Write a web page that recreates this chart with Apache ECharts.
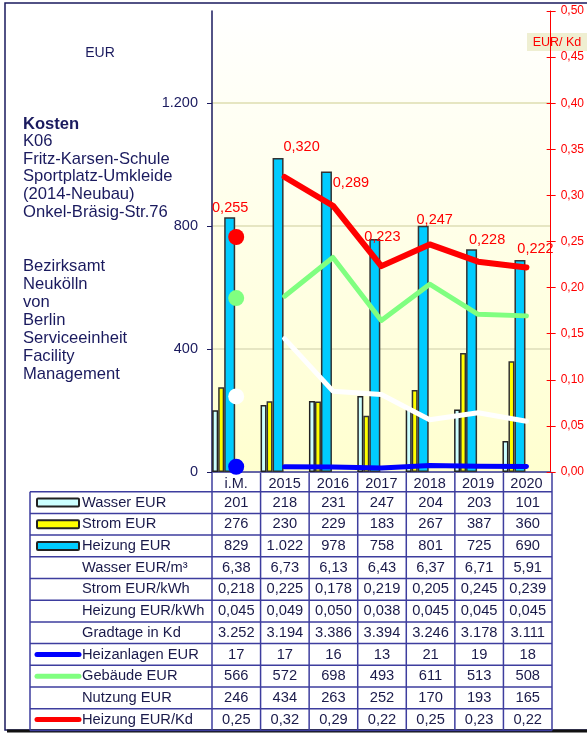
<!DOCTYPE html>
<html>
<head>
<meta charset="utf-8">
<script src="https://cdn.jsdelivr.net/npm/echarts@6/dist/echarts.min.js"></script>
<style>
  html, body { margin: 0; padding: 0; background: #fff; }
  #chart { width: 587px; height: 733px; }
</style>
</head>
<body>
<div id="chart"></div>
<script>
// Daten
const categories = ['i.M.', '2015', '2016', '2017', '2018', '2019', '2020'];
const wasserEur = [201, 218, 231, 247, 204, 203, 101];
const stromEur = [276, 230, 229, 183, 267, 387, 360];
const heizungEur = [829, 1022, 978, 758, 801, 725, 690];
const wasserProM3 = [6.38, 6.73, 6.13, 6.43, 6.37, 6.71, 5.91];
const stromProKwh = [0.218, 0.225, 0.178, 0.219, 0.205, 0.245, 0.239];
const heizungProKwh = [0.045, 0.049, 0.050, 0.038, 0.045, 0.045, 0.045];
const gradtage = [3252, 3194, 3386, 3394, 3246, 3178, 3111];
const heizanlagenEur = [17, 17, 16, 13, 21, 19, 18];
const gebaeudeEur = [566, 572, 698, 493, 611, 513, 508];
const nutzungEur = [246, 434, 263, 252, 170, 193, 165];
const heizungProKd = [0.2549, 0.3200, 0.2888, 0.2233, 0.2468, 0.2281, 0.2218];
const leftTicks = [0, 400, 800, 1200];

const titelBlock = ['Kosten', 'K06', 'Fritz-Karsen-Schule', 'Sportplatz-Umkleide', '(2014-Neubau)', 'Onkel-Bräsig-Str.76'];
const amtBlock = ['Bezirksamt', 'Neukölln', 'von', 'Berlin', 'Serviceeinheit', 'Facility', 'Management'];

// Label-Verschiebung der roten Werte (wie im Original)
const redLabelShift = [[-6, -29], [17, -30], [18, -23], [1, -29], [5, -24], [9, -22], [9, -19]];

const FONT = 'Liberation Sans, Arial, sans-serif';
const NAVY = '#1a1a5e';
const TABLE_LINE = '#3d3d9e';

// deutsches Zahlenformat
function fmt(v, d) {
  let s = v.toFixed(d);
  let [int, dec] = s.split('.');
  int = int.replace(/\B(?=(\d{3})+(?!\d))/g, '.');
  return dec ? int + ',' + dec : int;
}

const onlyFirst = (arr) => arr.map((v, i) => (i === 0 ? v : '-'));
const withoutFirst = (arr) => arr.map((v, i) => (i === 0 ? '-' : v));

// Plot-Bereich
const plotLeft = 212, plotRight = 552, plotTop = 11, plotBottom = 472;
const colW = (plotRight - plotLeft) / categories.length;
const tableLeft = 30, rowTop = 491.7, rowH = 21.7;

const tableRows = [
  { label: 'Wasser EUR', values: wasserEur, d: 0, box: '#ccffff' },
  { label: 'Strom EUR', values: stromEur, d: 0, box: '#ffff00' },
  { label: 'Heizung EUR', values: heizungEur, d: 0, box: '#00ccff' },
  { label: 'Wasser EUR/m³', values: wasserProM3, d: 2 },
  { label: 'Strom EUR/kWh', values: stromProKwh, d: 3 },
  { label: 'Heizung EUR/kWh', values: heizungProKwh, d: 3 },
  { label: 'Gradtage in Kd', values: gradtage, d: 0 },
  { label: 'Heizanlagen EUR', values: heizanlagenEur, d: 0, line: '#0000ff' },
  { label: 'Gebäude EUR', values: gebaeudeEur, d: 0, line: '#80ff80' },
  { label: 'Nutzung EUR', values: nutzungEur, d: 0 },
  { label: 'Heizung EUR/Kd', values: heizungProKd, d: 2, line: '#ff0000' }
];

function buildGraphics() {
  const g = [];
  // Rahmen
  g.push({ type: 'rect', shape: { x: 5, y: 3, width: 640, height: 727 },
    style: { fill: 'none', stroke: NAVY, lineWidth: 1.5 }, silent: true });
  g.push({ type: 'line', shape: { x1: 7, y1: 731, x2: 587, y2: 731 },
    style: { stroke: '#111', lineWidth: 3 }, silent: true });

  // Texte links
  g.push({ type: 'text', style: { text: 'EUR', x: 100, y: 53, fill: NAVY, fontSize: 14,
    fontFamily: FONT, align: 'center', verticalAlign: 'middle' } });
  titelBlock.forEach((t, i) => {
    g.push({ type: 'text', style: { text: t, x: 23, y: 124 + i * 17.6, fill: NAVY,
      fontSize: 16.6, fontWeight: i === 0 ? 'bold' : 'normal', fontFamily: FONT, verticalAlign: 'middle' } });
  });
  amtBlock.forEach((t, i) => {
    g.push({ type: 'text', style: { text: t, x: 23, y: 266.7 + i * 17.9, fill: NAVY,
      fontSize: 16.6, fontFamily: FONT, verticalAlign: 'middle' } });
  });

  // Einheit rechte Achse
  g.push({ type: 'rect', shape: { x: 527, y: 33, width: 60, height: 18 },
    style: { fill: '#efefd2' }, silent: true });
  g.push({ type: 'text', style: { text: 'EUR/ Kd', x: 557, y: 42.5, fill: '#ff0000',
    fontSize: 12.5, fontFamily: FONT, align: 'center', verticalAlign: 'middle' } });

  // Tabelle
  const tableBottom = rowTop + rowH * tableRows.length;
  for (let i = 0; i <= tableRows.length; i++) {
    const y = rowTop + i * rowH;
    g.push({ type: 'line', shape: { x1: tableLeft, y1: y, x2: plotRight, y2: y },
      style: { stroke: TABLE_LINE, lineWidth: 1.5 }, silent: true });
  }
  g.push({ type: 'line', shape: { x1: tableLeft, y1: rowTop, x2: tableLeft, y2: tableBottom },
    style: { stroke: TABLE_LINE, lineWidth: 1.5 }, silent: true });
  for (let j = 0; j <= categories.length; j++) {
    const x = plotLeft + j * colW;
    g.push({ type: 'line', shape: { x1: x, y1: plotBottom, x2: x, y2: tableBottom },
      style: { stroke: TABLE_LINE, lineWidth: 1.5 }, silent: true });
  }
  tableRows.forEach((row, i) => {
    const cy = rowTop + (i + 0.5) * rowH;
    if (row.box) {
      g.push({ type: 'rect', shape: { x: 37, y: cy - 4, width: 42, height: 8, r: 1 },
        style: { fill: row.box, stroke: '#222', lineWidth: 2 }, silent: true });
    }
    if (row.line) {
      g.push({ type: 'line', shape: { x1: 37, y1: cy, x2: 79, y2: cy },
        style: { stroke: row.line, lineWidth: 5, lineCap: 'round' }, silent: true });
    }
    g.push({ type: 'text', style: { text: row.label, x: 82, y: cy, fill: '#1a1a4a',
      fontSize: 14.7, fontFamily: FONT, verticalAlign: 'middle' } });
    row.values.forEach((v, j) => {
      g.push({ type: 'text', style: { text: fmt(v, row.d), x: plotLeft + (j + 0.5) * colW, y: cy,
        fill: '#1a1a4a', fontSize: 14.7, fontFamily: FONT, align: 'center', verticalAlign: 'middle' } });
    });
  });
  return g;
}

const chart = echarts.init(document.getElementById('chart'));

const redLabel = {
  show: true, position: 'inside', color: '#ff0000', fontSize: 14.5, fontFamily: FONT,
  formatter: (p) => fmt(p.value, 3)
};

chart.setOption({
  animation: false,
  textStyle: { fontFamily: FONT },
  grid: {
    left: plotLeft, top: plotTop, width: plotRight - plotLeft, height: plotBottom - plotTop,
    show: true, borderWidth: 0,
    backgroundColor: new echarts.graphic.LinearGradient(0, 0, 0, 1, [
      { offset: 0, color: '#ffffff' },
      { offset: 1, color: '#ffffcf' }
    ])
  },
  xAxis: {
    type: 'category',
    data: categories,
    boundaryGap: true,
    axisLine: { show: true, lineStyle: { color: TABLE_LINE, width: 1.5 } },
    axisTick: { show: false },
    axisLabel: { interval: 0, margin: 4, fontSize: 14.5, color: '#1a1a4a' }
  },
  yAxis: [
    {
      type: 'value', min: 0, max: 1500, interval: 100, position: 'left',
      axisLine: { show: true, lineStyle: { color: NAVY, width: 1.5 } },
      axisTick: { show: true, customValues: leftTicks, length: 5, lineStyle: { color: NAVY } },
      axisLabel: { customValues: leftTicks, fontSize: 14.5, color: NAVY, margin: 14,
        formatter: (v) => fmt(v, 0) },
      splitLine: { show: true, lineStyle: { color: '#e6e6c2', width: 2 } }
    },
    {
      type: 'value', min: 0, max: 0.5, interval: 0.05, position: 'right',
      axisLine: { show: true, lineStyle: { color: '#ff0000', width: 1 } },
      axisTick: { show: true, length: 5, lineStyle: { color: '#ff0000' } },
      axisLabel: { fontSize: 12, color: '#ff0000', margin: 10, formatter: (v) => fmt(v, 2) },
      splitLine: { show: false }
    },
    {
      // nur die inneren Striche der rechten Achse
      type: 'value', min: 0, max: 0.5, interval: 0.05, position: 'right',
      axisLine: { show: false },
      axisTick: { show: true, inside: true, length: 4, lineStyle: { color: '#ff0000' } },
      axisLabel: { show: false },
      splitLine: { show: false }
    }
  ],
  series: [
    { name: 'Wasser EUR', type: 'bar', data: wasserEur, barWidth: 6, barGap: '0%',
      itemStyle: { color: '#ccffff', borderColor: '#222', borderWidth: 1.5 } },
    { name: 'Strom EUR', type: 'bar', data: stromEur, barWidth: 6, barGap: '0%',
      itemStyle: { color: '#ffff00', borderColor: '#333', borderWidth: 1.5 } },
    { name: 'Heizung EUR', type: 'bar', data: heizungEur, barWidth: 11, barGap: '0%',
      itemStyle: { color: '#00ccff', borderColor: '#333', borderWidth: 1.5 } },
    // Platzhalter, damit die Säulen links der Kategoriemitte stehen
    { name: 'spacer', type: 'bar', data: categories.map(() => '-'), barWidth: 25, barGap: '0%', silent: true },

    { name: 'Heizanlagen EUR', type: 'line', data: withoutFirst(heizanlagenEur), symbol: 'none',
      lineStyle: { color: '#0000ff', width: 5, cap: 'round', join: 'round' } },
    { name: 'Heizanlagen EUR i.M.', type: 'scatter', data: onlyFirst(heizanlagenEur), symbolSize: 16,
      itemStyle: { color: '#0000ff', opacity: 1 } },
    { name: 'Gebäude EUR', type: 'line', data: withoutFirst(gebaeudeEur), symbol: 'none',
      lineStyle: { color: '#80ff80', width: 5, cap: 'round', join: 'round' } },
    { name: 'Gebäude EUR i.M.', type: 'scatter', data: onlyFirst(gebaeudeEur), symbolSize: 16,
      itemStyle: { color: '#80ff80', opacity: 1 } },
    { name: 'Nutzung EUR', type: 'line', data: withoutFirst(nutzungEur), symbol: 'none',
      lineStyle: { color: '#ffffff', width: 5, cap: 'round', join: 'round' } },
    { name: 'Nutzung EUR i.M.', type: 'scatter', data: onlyFirst(nutzungEur), symbolSize: 16,
      itemStyle: { color: '#ffffff', opacity: 1 } },
    { name: 'Heizung EUR/Kd', type: 'line', yAxisIndex: 1, symbol: 'circle', symbolSize: 1,
      data: heizungProKd.map((v, i) => (i === 0 ? '-' : { value: v, label: { offset: redLabelShift[i] } })),
      itemStyle: { color: '#ff0000' }, label: redLabel,
      lineStyle: { color: '#ff0000', width: 6, cap: 'round', join: 'round' } },
    { name: 'Heizung EUR/Kd i.M.', type: 'scatter', yAxisIndex: 1, symbolSize: 16,
      data: heizungProKd.map((v, i) => (i === 0 ? { value: v, label: { offset: redLabelShift[0] } } : '-')),
      itemStyle: { color: '#ff0000', opacity: 1 }, label: redLabel }
  ],
  graphic: buildGraphics()
});
</script>
</body>
</html>
